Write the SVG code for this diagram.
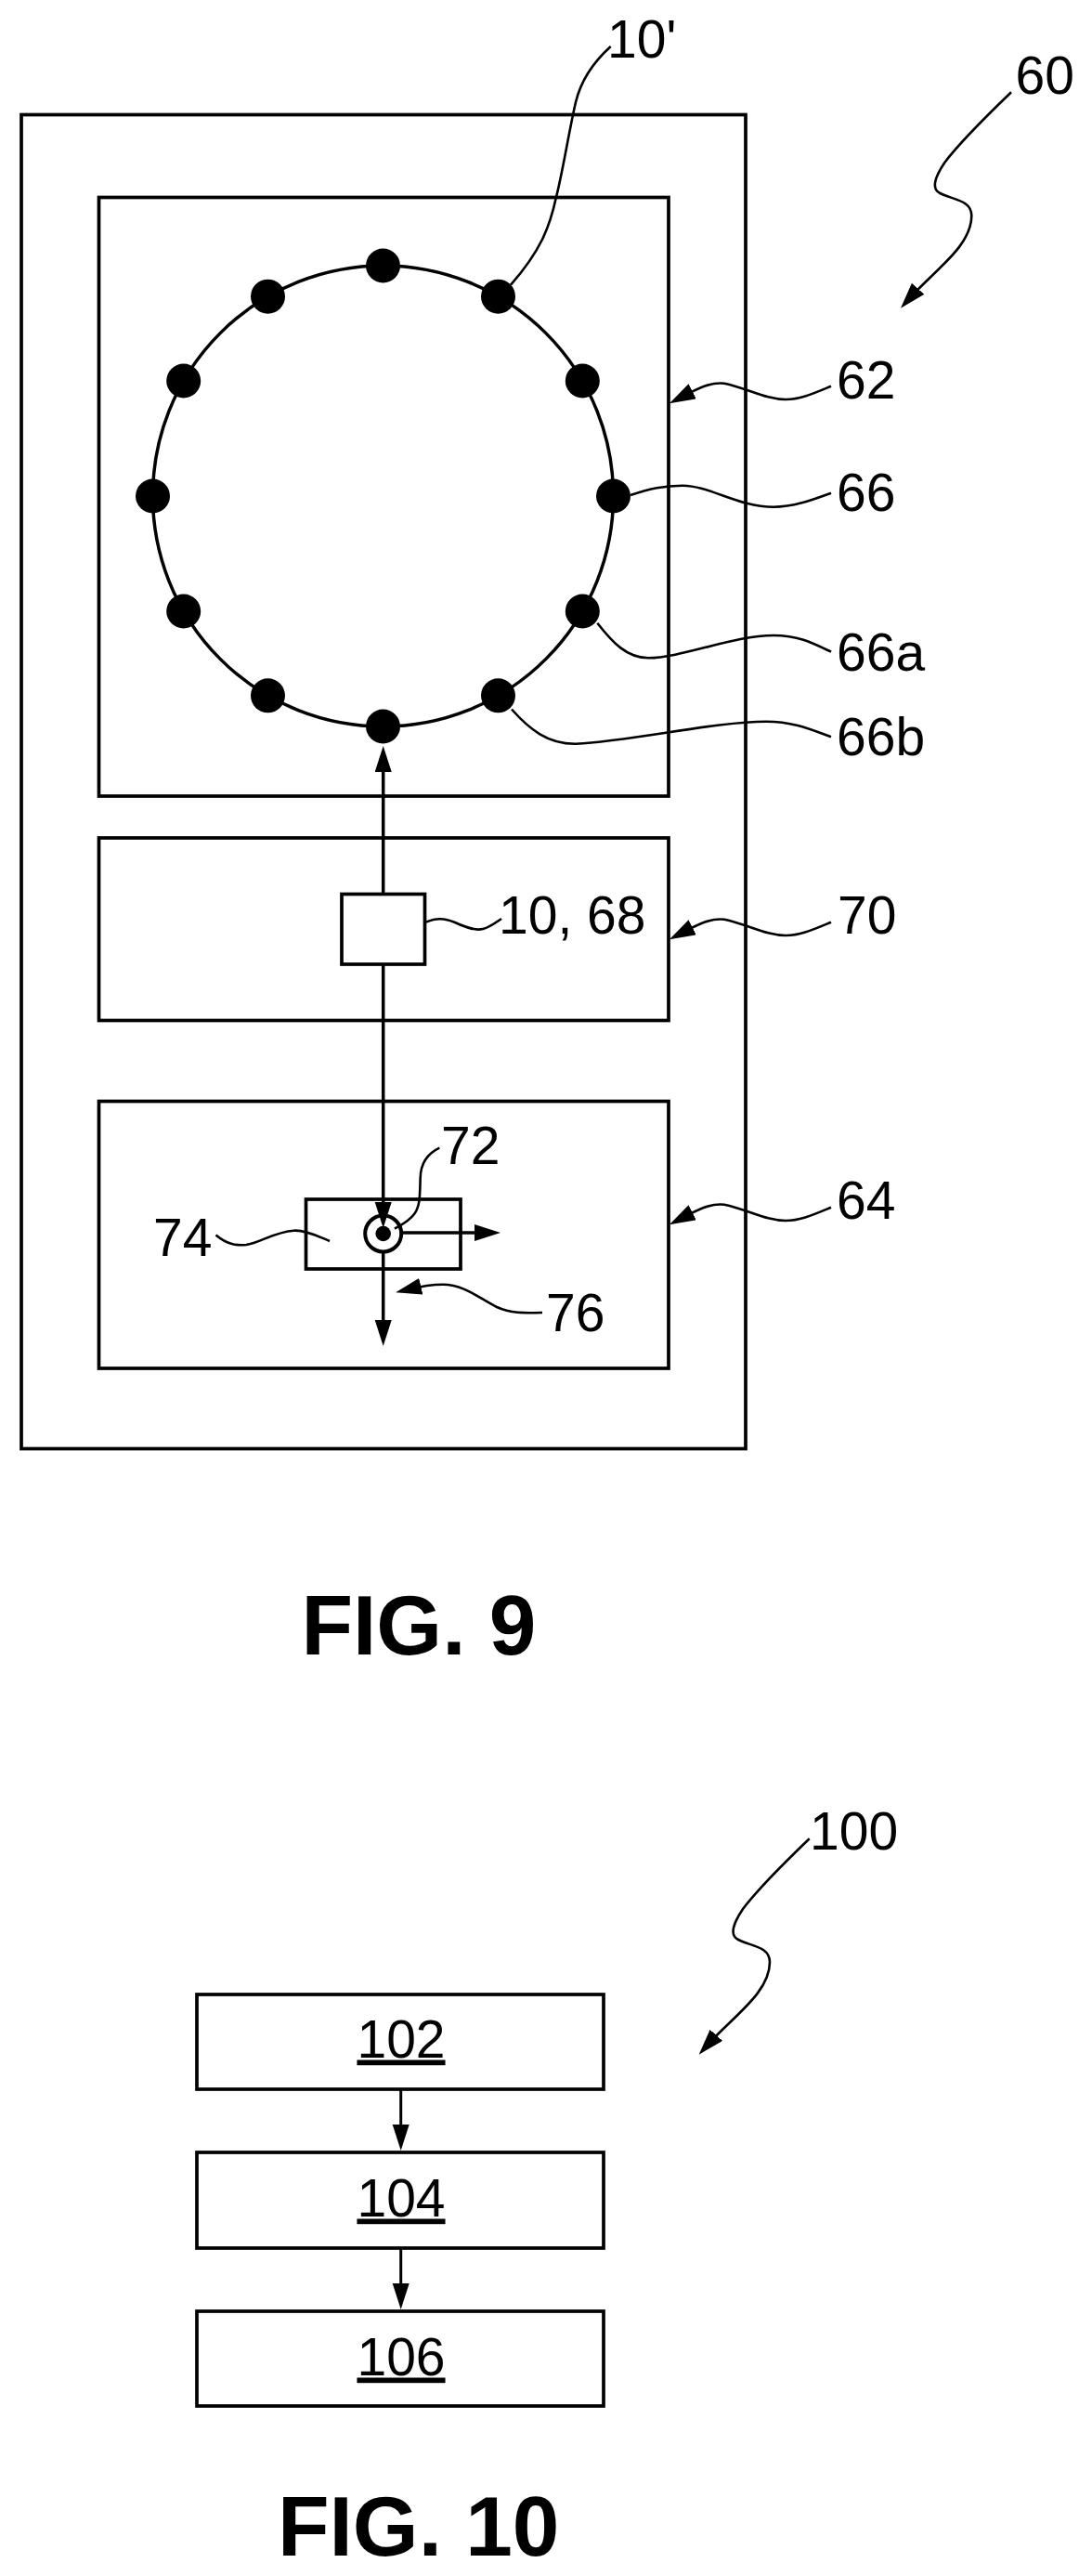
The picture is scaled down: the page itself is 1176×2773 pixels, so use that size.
<svg xmlns="http://www.w3.org/2000/svg" width="1176" height="2773" viewBox="0 0 1176 2773">
<style>
text{font-family:"Liberation Sans",Arial,sans-serif;font-size:57px;fill:#000}
.fig{font-weight:bold;font-size:91px}
.u{text-anchor:middle;text-decoration:underline}
.box{fill:none;stroke:#000;stroke-width:3.7}
.wire{fill:none;stroke:#000;stroke-width:3.5}
.wire2{fill:none;stroke:#000;stroke-width:3}
.lead{fill:none;stroke:#000;stroke-width:2.6}
.dot{fill:#000}
</style>
<defs>
<marker id="ah" markerUnits="userSpaceOnUse" markerWidth="30" markerHeight="20" refX="14" refY="9" orient="auto"><path d="M0,0 L28,9 L0,18 Z" fill="#000"/></marker>
</defs>
<rect width="1176" height="2773" fill="#fff"/>
<g id="system-60"><rect class="box" x="23" y="123.5" width="780" height="1436"/></g>
<g id="unit-62"><rect class="box" x="106.5" y="212.5" width="613.5" height="644.5"/>
<circle cx="412.5" cy="534" r="248" fill="none" stroke="#000" stroke-width="3.5"/>
<g class="dot">
<circle cx="412.5" cy="286" r="18.5"/><circle cx="536.5" cy="319.2" r="18.5"/><circle cx="627.3" cy="410" r="18.5"/><circle cx="660.5" cy="534" r="18.5"/><circle cx="627.3" cy="658" r="18.5"/><circle cx="536.5" cy="748.8" r="18.5"/><circle cx="412.5" cy="782" r="18.5"/><circle cx="288.5" cy="748.8" r="18.5"/><circle cx="197.7" cy="658" r="18.5"/><circle cx="164.5" cy="534" r="18.5"/><circle cx="197.7" cy="410" r="18.5"/><circle cx="288.5" cy="319.2" r="18.5"/>
</g></g>
<g id="unit-70"><rect class="box" x="106.5" y="902" width="613.5" height="196.5"/></g>
<g id="unit-64"><rect class="box" x="106.5" y="1185.5" width="613.5" height="287.5"/></g>
<g id="connectors">
<path class="wire" d="M412.7,962.5 V817" marker-end="url(#ah)"/>
<path class="wire" d="M412.7,1038 V1308" marker-end="url(#ah)"/>
<path class="wire" d="M412.7,1348 V1435" marker-end="url(#ah)"/>
<path class="wire" d="M433,1327 H525" marker-end="url(#ah)"/>
<path class="wire2" d="M431.7,2249 V2301" marker-end="url(#ah)"/>
<path class="wire2" d="M431.7,2420 V2472" marker-end="url(#ah)"/>
<path class="lead" d="M1089,99.3 C1062.3,125 1032.3,155 1017.3,175 C1007.3,190 1002.3,203 1012.3,208 C1025.3,215 1046.3,215 1046.3,232 C1046.3,265 1007.3,290 979.3,321.3" marker-end="url(#ah)"/>
<path class="lead" d="M657.7,50 C640,66 626,85 620,110 C612,145 606,185 599,212 C592,245 582,270 550,306.7"/>
<path class="lead" d="M895,415.7 C875,424 862,430 846,430 C825,430 805,418 780,412.7 C765,411 752,418 733.3,427.8" marker-end="url(#ah)"/>
<path class="lead" d="M679,533 C700,526 715,522.7 735,522.7 C765,523 795,545.7 833,545.7 C855,545.7 875,538 895,530.7"/>
<path class="lead" d="M643.3,670.7 C660,692 675,708 698,708.3 C735,708 790,684 833,684 C860,684 875,692 895,701.7"/>
<path class="lead" d="M551,763.5 C570,785 590,801 620,800.7 C680,798 770,776.7 825,776.7 C855,776.7 875,786 895,793.3"/>
<path class="lead" d="M459,992.5 C470,988 478,988 490,993 C503,999 512,1002 520,1000 C528,998 534,993 540,989"/>
<path class="lead" d="M895,992.7 C875,1001 862,1007 846,1007 C825,1007 805,995 780,989.7 C765,988 752,995 733.3,1004.8" marker-end="url(#ah)"/>
<path class="lead" d="M895,1299.7 C875,1308 862,1314 846,1314 C825,1314 805,1302 780,1296.7 C765,1295 752,1302 733.3,1311.8" marker-end="url(#ah)"/>
<path class="lead" d="M473.3,1235.7 C460,1242 453,1252 452.7,1268 C452,1285 453,1298 446,1307 C440,1315 433,1318 425,1322.7"/>
<path class="lead" d="M232.5,1329.5 C245,1340 255,1341 265,1340 C280,1338 295,1326 316.7,1324.7 C330,1324 345,1332 355,1336"/>
<path class="lead" d="M584,1413 C565,1413.5 550,1414 535,1407 C515,1397 500,1383 477,1382.7 C465,1382.7 452,1385 439.7,1388" marker-end="url(#ah)"/>
<path class="lead" d="M871.7,1979.3 C845,2005 815,2035 800,2055 C790,2070 785,2083 795,2088 C808,2095 829,2095 829,2112 C829,2145 790,2170 762,2201.3" marker-end="url(#ah)"/>
</g>
<g id="node-68"><rect class="box" x="368" y="962.5" width="89.5" height="75.5" style="fill:#fff"/></g>
<g id="node-74"><rect class="box" x="329.5" y="1291" width="166.5" height="75"/>
<circle cx="412.7" cy="1328" r="19.5" fill="none" stroke="#000" stroke-width="4"/>
<circle class="dot" cx="412.7" cy="1328" r="8.3"/></g>
<g id="labels">
<text x="654" y="61.7">10'</text>
<text x="1093.5" y="100.5">60</text>
<text x="901" y="429">62</text>
<text x="901" y="549.5">66</text>
<text x="901" y="722">66a</text>
<text x="901" y="813">66b</text>
<text x="537" y="1005">10, 68</text>
<text x="902" y="1005">70</text>
<text x="475" y="1252.7">72</text>
<text x="901" y="1312">64</text>
<text x="165" y="1352">74</text>
<text x="588" y="1432.5">76</text>
<text x="872" y="1990.7">100</text>
<text class="fig" x="324.5" y="1780.7">FIG. 9</text>
<text class="fig" x="299" y="2750.7">FIG. 10</text>
</g>
<g id="step-102"><rect class="box" x="212" y="2147" width="438" height="102"/><text class="u" x="432" y="2214.5">102</text></g>
<g id="step-104"><rect class="box" x="212" y="2317" width="438" height="103"/><text class="u" x="432" y="2385.5">104</text></g>
<g id="step-106"><rect class="box" x="212" y="2488" width="438" height="102"/><text class="u" x="432" y="2556.5">106</text></g>
</svg>
